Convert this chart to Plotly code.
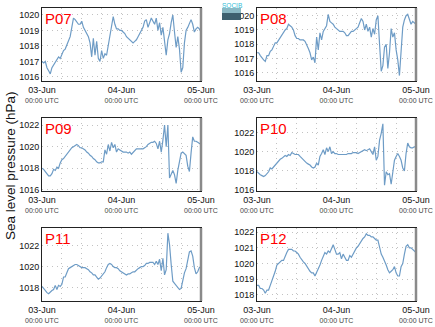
import pandas as pd
import plotly.graph_objects as go

# Half-hourly sea level pressure (hPa), 03-Jun 00:00 to 05-Jun 00:00 UTC
times = pd.date_range("2013-06-03 00:00", periods=97, freq="30min")

stations = ["P07", "P08", "P09", "P10", "P11", "P12"]

p07 = [1017.0, 1016.9, 1017.0, 1016.6, 1016.4, 1016.2, 1016.6, 1016.8, 1017.0, 1017.1, 1017.3, 1017.2,
       1017.5, 1017.7, 1017.8, 1018.1, 1018.3, 1018.6, 1019.2, 1019.8, 1019.7, 1019.5, 1019.4, 1019.4,
       1019.6, 1019.2, 1019.0, 1018.8, 1018.6, 1018.2, 1017.3, 1018.5, 1017.4, 1018.3, 1017.2, 1017.0,
       1017.7, 1017.2, 1017.5, 1017.4, 1018.0, 1018.6, 1019.4, 1019.9, 1019.4, 1019.1, 1019.1, 1019.0,
       1019.0, 1018.9, 1018.8, 1018.6, 1018.5, 1018.4, 1018.3, 1018.2, 1018.3, 1018.4, 1018.6, 1018.8,
       1019.0, 1019.2, 1019.6, 1019.7, 1019.2, 1019.5, 1019.8, 1019.6, 1019.4, 1019.8, 1019.0, 1019.5,
       1018.7, 1019.2, 1018.3, 1017.4, 1018.4, 1018.8, 1019.5, 1020.0, 1018.9, 1017.9, 1018.6, 1017.8,
       1016.3, 1016.6, 1018.2, 1019.0, 1019.2, 1019.4, 1019.7, 1019.4, 1018.9, 1019.1, 1019.2, 1019.1,
       1018.9]

p08 = [1017.4, 1017.4, 1017.2, 1017.0, 1016.9, 1016.8, 1017.2, 1017.2, 1017.5, 1017.6, 1017.8, 1018.1,
       1018.1, 1018.3, 1018.5, 1018.6, 1018.8, 1019.0, 1019.1, 1019.4, 1019.3, 1019.2, 1019.0, 1018.6,
       1018.4, 1018.4, 1018.3, 1018.3, 1018.3, 1018.2, 1018.0, 1017.7, 1017.4, 1016.9, 1017.1, 1016.7,
       1018.5, 1017.6, 1018.8, 1018.3, 1018.9, 1019.1, 1019.3, 1020.1, 1019.6, 1019.5, 1019.4, 1019.2,
       1019.1, 1019.0, 1018.9, 1018.9, 1018.9, 1018.8, 1018.6, 1018.6, 1018.8, 1018.9, 1018.9, 1019.0,
       1019.1, 1019.2, 1019.5, 1019.8, 1019.6, 1019.0, 1019.4, 1018.9, 1019.2, 1018.5, 1019.1, 1018.7,
       1019.7, 1020.0, 1018.0, 1016.1, 1016.5, 1017.8, 1018.0, 1016.3, 1017.4, 1019.1, 1018.5, 1018.8,
       1017.6, 1016.9, 1015.8, 1017.6, 1019.2, 1019.7, 1020.0, 1020.1, 1019.8, 1019.4, 1019.6, 1019.5,
       1019.4]

p09 = [1018.0, 1017.9, 1017.7, 1017.5, 1017.3, 1017.3, 1017.5, 1017.9, 1017.8, 1018.1, 1018.0, 1018.5,
       1018.8, 1018.9, 1019.1, 1019.3, 1019.6, 1019.8, 1019.9, 1020.0, 1020.1, 1020.2, 1020.1, 1019.9,
       1019.9, 1019.8, 1019.7, 1019.5, 1019.4, 1019.2, 1019.1, 1018.9, 1018.8, 1018.6, 1018.5, 1018.5,
       1018.6, 1018.6, 1019.7, 1019.3, 1020.2, 1019.6, 1020.4, 1019.9, 1020.2, 1019.5, 1019.8, 1019.7,
       1019.6, 1019.5, 1019.5, 1019.5, 1019.4, 1019.5, 1019.3, 1019.5, 1019.7, 1019.8, 1019.8, 1019.8,
       1019.8, 1019.8, 1019.9, 1020.0, 1020.2, 1020.3, 1020.4, 1020.4, 1020.5, 1020.3, 1019.8, 1020.5,
       1019.5, 1020.6, 1022.0, 1020.0, 1022.0, 1017.1, 1017.4, 1017.8, 1017.4, 1016.6, 1017.8, 1018.8,
       1019.4, 1019.5, 1019.3, 1019.2, 1018.2, 1017.7, 1019.4, 1020.9, 1020.5, 1020.5, 1020.4, 1020.3,
       1020.2]

p10 = [1017.9, 1017.7, 1017.6, 1017.5, 1017.4, 1017.5, 1017.7, 1017.9, 1018.3, 1018.2, 1018.4, 1018.6,
       1018.8, 1019.1, 1019.2, 1019.3, 1019.5, 1019.6, 1019.5, 1019.7, 1019.6, 1019.9, 1019.8, 1019.7,
       1019.7, 1019.7, 1019.5, 1019.3, 1019.1, 1019.0, 1018.8, 1018.7, 1018.6, 1018.4, 1018.3, 1018.4,
       1018.8, 1018.6, 1019.5, 1019.8, 1020.2, 1019.7, 1020.4, 1020.0, 1020.5, 1019.8, 1020.0, 1019.8,
       1019.8, 1019.7, 1019.7, 1019.7, 1019.7, 1019.7, 1019.7, 1019.8, 1019.8, 1019.8, 1019.9, 1019.9,
       1019.9, 1019.8, 1019.9, 1020.0, 1020.1, 1020.2, 1020.1, 1020.2, 1020.3, 1020.0, 1019.7, 1020.5,
       1019.1, 1019.5, 1021.2, 1021.9, 1022.9, 1016.5, 1017.9, 1017.6, 1017.7, 1016.6, 1018.1, 1019.1,
       1019.5, 1019.8, 1019.5, 1019.1, 1018.3, 1018.0, 1019.8, 1020.9, 1020.5, 1020.4, 1020.4, 1020.5,
       1020.5]

p11 = [1018.1, 1017.9, 1017.6, 1017.5, 1017.4, 1017.6, 1017.7, 1017.8, 1018.2, 1017.8, 1018.2, 1018.1,
       1018.3, 1019.0, 1019.0, 1019.4, 1019.8, 1019.9, 1020.0, 1020.1, 1020.2, 1020.2, 1020.1, 1020.0,
       1019.9, 1019.9, 1019.9, 1019.8, 1019.7, 1019.5, 1019.4, 1019.2, 1019.2, 1019.0, 1018.8, 1018.9,
       1019.1, 1019.3, 1019.5, 1019.9, 1020.2, 1020.3, 1020.2, 1020.0, 1019.9, 1019.9, 1019.8, 1019.6,
       1019.5, 1019.4, 1019.3, 1019.2, 1019.3, 1019.3, 1019.4, 1019.5, 1019.5, 1019.7, 1019.8, 1019.9,
       1020.0, 1020.0, 1020.1, 1020.3, 1020.3, 1020.4, 1020.4, 1020.4, 1020.2, 1020.5, 1020.2, 1020.7,
       1019.6, 1020.8, 1019.2, 1019.7, 1023.2, 1022.1, 1020.2, 1018.6, 1018.4, 1018.2, 1018.1, 1017.8,
       1017.9, 1018.7, 1019.4, 1019.8, 1020.8, 1021.4, 1021.5, 1021.0, 1019.9, 1019.3, 1019.5, 1019.9,
       1020.0]

p12 = [1018.6, 1018.6, 1018.4, 1018.4, 1018.3, 1018.1, 1018.3, 1018.3, 1018.6, 1018.9, 1019.1, 1019.5,
       1019.9, 1020.0, 1020.1, 1020.2, 1020.2, 1020.5, 1020.7, 1020.9, 1020.9, 1020.9, 1020.8, 1020.8,
       1020.7, 1020.6, 1020.4, 1020.2, 1020.1, 1020.0, 1019.8, 1019.7, 1019.5, 1019.4, 1019.4, 1019.2,
       1019.4, 1019.7, 1019.9, 1020.2, 1020.5, 1020.7, 1020.6, 1020.8, 1020.7, 1021.0, 1021.2, 1020.9,
       1020.6, 1020.6, 1020.7, 1020.3, 1020.6, 1020.4, 1020.2, 1020.2, 1020.5, 1020.4, 1020.6, 1020.8,
       1021.0, 1021.1, 1021.3, 1021.4, 1021.6, 1021.7, 1021.9, 1021.8, 1021.8, 1021.7, 1021.7, 1021.6,
       1021.5, 1021.5, 1021.0, 1020.6, 1020.4, 1020.2, 1019.9, 1019.6, 1019.4, 1019.5, 1019.6, 1019.8,
       1019.4, 1019.2, 1019.2, 1019.8, 1020.0, 1020.6, 1021.1, 1021.2, 1021.0, 1021.0, 1020.9, 1020.8,
       1020.7]

series = [p07, p08, p09, p10, p11, p12]

y_ranges = [[1015.74, 1020.45], [1015.42, 1020.54], [1015.9, 1022.65],
            [1015.9, 1023.5], [1016.7, 1023.7], [1017.6, 1022.27]]
y_ticks = [[1016, 1017, 1018, 1019, 1020], [1016, 1017, 1018, 1019, 1020],
           [1016, 1018, 1020, 1022], [1016, 1018, 1020, 1022],
           [1018, 1020, 1022], [1018, 1019, 1020, 1021, 1022]]

x_tick_dates = ["2013-06-03", "2013-06-04", "2013-06-05"]
x_tick_days = ["03-Jun", "04-Jun", "05-Jun"]
x_tick_hour = "00:00 UTC"

W, H = 435, 327
col_px = [(42, 201), (257, 416)]
row_px = [(8, 81), (118, 191), (228, 301)]

fig = go.Figure()
font_family = "Liberation Sans, Arial, sans-serif"
grid_style = dict(gridcolor="#c2c2c2", griddash="1px,4px", gridwidth=1)
tick_text = [f"<span style='font-size:9px'>{d}</span><br>"
             f"<span style='font-size:7px;color:#444'>{x_tick_hour}</span>" for d in x_tick_days]

for k, (name, vals) in enumerate(zip(stations, series)):
    r, c = divmod(k, 2)
    n = k + 1
    xa = "x" if n == 1 else f"x{n}"
    ya = "y" if n == 1 else f"y{n}"
    fig.add_trace(go.Scatter(x=times, y=vals, mode="lines", xaxis=xa, yaxis=ya,
                             line=dict(color="#6e9cc6", width=1.2), showlegend=False))
    x0, x1 = col_px[c]
    y0, y1 = row_px[r]
    axis_common = dict(showline=True, mirror=True, linecolor="#222", linewidth=1,
                       zeroline=False, automargin=False, ticks="", **grid_style)
    fig.layout[f"xaxis{'' if n == 1 else n}"] = dict(
        domain=[x0 / W, x1 / W], anchor=ya, type="date",
        range=["2013-06-03 00:00", "2013-06-05 00:00"],
        tickvals=x_tick_dates, ticktext=tick_text, ticklabelstandoff=2,
        tickfont=dict(size=7.5, color="#111", family=font_family),
        minor=dict(dtick=6 * 3600 * 1000, showgrid=True, **grid_style),
        **axis_common)
    fig.layout[f"yaxis{'' if n == 1 else n}"] = dict(
        domain=[1 - y1 / H, 1 - y0 / H], anchor=xa,
        range=y_ranges[k], tickvals=y_ticks[k],
        tickfont=dict(size=9, color="#111", family=font_family),
        **axis_common)
    # heavier grey right-hand frame edge
    fig.add_shape(type="line", xref=f"{xa} domain", yref=f"{ya} domain",
                  x0=1, x1=1, y0=0, y1=1, line=dict(color="#8a8a8a", width=2.5))
    fig.add_annotation(text=name, xref=f"{xa} domain", yref=f"{ya} domain",
                       x=0.005, y=1.0, xanchor="left", yanchor="top", showarrow=False,
                       font=dict(size=15, color="#ff0000", family=font_family))

fig.add_annotation(text="Sea level pressure (hPa)", xref="paper", yref="paper",
                   x=10 / W, y=1 - 166 / H, xanchor="center", yanchor="middle",
                   textangle=-90, showarrow=False,
                   font=dict(size=13.5, color="#111", family=font_family))

# small institutional logo block between the top panels
fig.add_shape(type="rect", xref="paper", yref="paper",
              x0=222 / W, x1=241 / W, y0=1 - 20 / H, y1=1 - 13 / H,
              line=dict(width=0), fillcolor="#3d5f6e")
fig.add_shape(type="rect", xref="paper", yref="paper",
              x0=222 / W, x1=241 / W, y0=1 - 13 / H, y1=1 - 8 / H,
              line=dict(width=0), fillcolor="#8ab8c4")
fig.add_annotation(text="SOCIB", xref="paper", yref="paper", x=231.5 / W, y=1 - 1 / H,
                   xanchor="center", yanchor="top", showarrow=False, borderpad=0,
                   font=dict(size=6.5, color="#33bcd6", family=font_family))

fig.update_layout(width=W, height=H, margin=dict(l=0, r=0, t=0, b=0),
                  paper_bgcolor="white", plot_bgcolor="white")

fig.write_html("out.html")
